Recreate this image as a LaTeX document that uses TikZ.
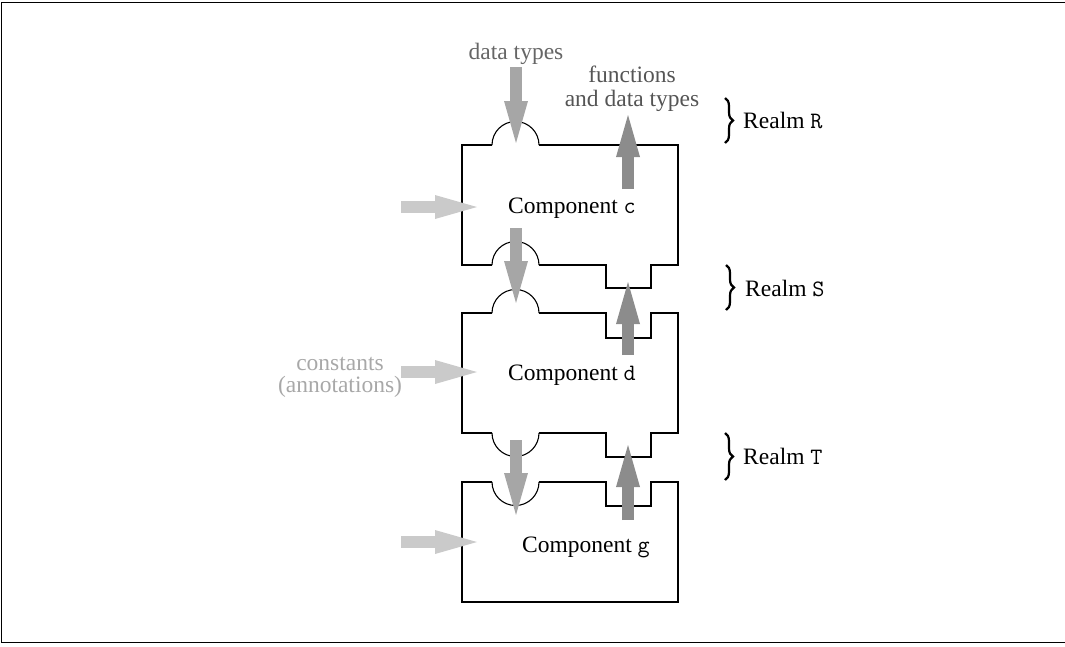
\documentclass[tikz,border=0pt]{standalone}
\usepackage{fontspec}
\setmainfont{Liberation Serif}
\usetikzlibrary{arrows.meta,decorations.pathreplacing}
\definecolor{darrow}{HTML}{A6A6A6}
\definecolor{uarrow}{HTML}{8C8C8C}
\definecolor{larrow}{HTML}{CACACA}
\definecolor{dtext}{HTML}{666666}
\definecolor{ftext}{HTML}{555555}
\definecolor{ctext}{HTML}{A8A8A8}
\begin{document}
\begin{tikzpicture}[x=1pt,y=-1pt,
  boxline/.style={line width=2pt,line join=miter},
  arcline/.style={line width=1.1pt},
  fatarrow/.style={line width=12pt,-{Triangle[length=42pt,width=24pt,line width=0pt]}},
  lbl/.style={inner sep=0pt,font=\fontsize{23.5}{24}\selectfont},
  realmbrace/.style={line width=2.2pt,decorate,decoration={brace,amplitude=8pt}}]
\useasboundingbox (0,0) rectangle (1065,646);
\draw[line width=1pt] (1.5,2.5) rectangle (1070,642);

% Component c
\draw[boxline] (492,145) -- (462,145) -- (462,265) -- (492,265);
\draw[boxline] (539,265) -- (606,265) -- (606,288) -- (651,288) -- (651,265) -- (678,265) -- (678,145) -- (539,145);
\draw[arcline] (492,145) arc[start angle=180,end angle=360,radius=23.5];
\draw[arcline] (492,265) arc[start angle=180,end angle=360,radius=23.5];
% Component d
\draw[boxline] (492,313) -- (462,313) -- (462,433) -- (492,433);
\draw[boxline] (539,433) -- (606,433) -- (606,457) -- (651,457) -- (651,433) -- (678,433) -- (678,313) -- (651,313) -- (651,338) -- (606,338) -- (606,313) -- (539,313);
\draw[arcline] (492,313) arc[start angle=180,end angle=360,radius=23.5];
\draw[arcline] (492,433) arc[start angle=180,end angle=0,radius=23.5];
% Component g
\draw[boxline] (492,482) -- (462,482) -- (462,602) -- (678,602) -- (678,482) -- (651,482) -- (651,506) -- (606,506) -- (606,482) -- (539,482);
\draw[arcline] (492,482) arc[start angle=180,end angle=0,radius=23.5];

% labels inside components
\node[lbl,anchor=base west] (cc) at (508,213) {Component \texttt{c}};
\node[lbl,anchor=base west] (cd) at (508,380) {Component \texttt{d}};
\node[lbl,anchor=base west] (cg) at (522,552) {Component \texttt{g}};

% top labels
\node[lbl,anchor=base,text=dtext] (dt) at (516,59) {data types};
\node[lbl,align=center,text=ftext] (fd) at (632,89) {functions\\and data types};
\node[lbl,align=center,text=ctext,font=\fontsize{23.5}{22}\selectfont] (ca) at (340,377) {constants\\(annotations)};

% arrow coordinates
\coordinate (d1s) at (516,67);  \coordinate (d1e) at (516,143);
\coordinate (d2s) at (516,228); \coordinate (d2e) at (516,303);
\coordinate (d3s) at (516,440); \coordinate (d3e) at (516,515);
\coordinate (u1s) at (628,189); \coordinate (u1e) at (628,115);
\coordinate (u2s) at (628,355); \coordinate (u2e) at (628,282);
\coordinate (u3s) at (628,520); \coordinate (u3e) at (628,445);
\coordinate (l1s) at (401,207); \coordinate (l1e) at (477,207);
\coordinate (l2s) at (401,372); \coordinate (l2e) at (477,372);
\coordinate (l3s) at (401,542); \coordinate (l3e) at (477,542);

\draw[fatarrow,darrow] (d1s) -- (d1e);
\draw[fatarrow,darrow] (d2s) -- (d2e);
\draw[fatarrow,darrow] (d3s) -- (d3e);
\draw[fatarrow,uarrow] (u1s) -- (u1e);
\draw[fatarrow,uarrow] (u2s) -- (u2e);
\draw[fatarrow,uarrow] (u3s) -- (u3e);
\draw[fatarrow,larrow] (l1s) -- (l1e);
\draw[fatarrow,larrow] (l2s) -- (l2e);
\draw[fatarrow,larrow] (l3s) -- (l3e);

% realms
\coordinate (rRt) at (725,98);  \coordinate (rRb) at (725,143);
\coordinate (rSt) at (726,265); \coordinate (rSb) at (726,310);
\coordinate (rTt) at (725,433); \coordinate (rTb) at (725,480);
\draw[realmbrace] (rRt) -- (rRb);
\draw[realmbrace] (rSt) -- (rSb);
\draw[realmbrace] (rTt) -- (rTb);
\node[lbl,anchor=base west] (rR) at (743,128) {Realm \texttt{R}};
\node[lbl,anchor=base west] (rS) at (745,296) {Realm \texttt{S}};
\node[lbl,anchor=base west] (rT) at (743,464) {Realm \texttt{T}};
\end{tikzpicture}
\end{document}
